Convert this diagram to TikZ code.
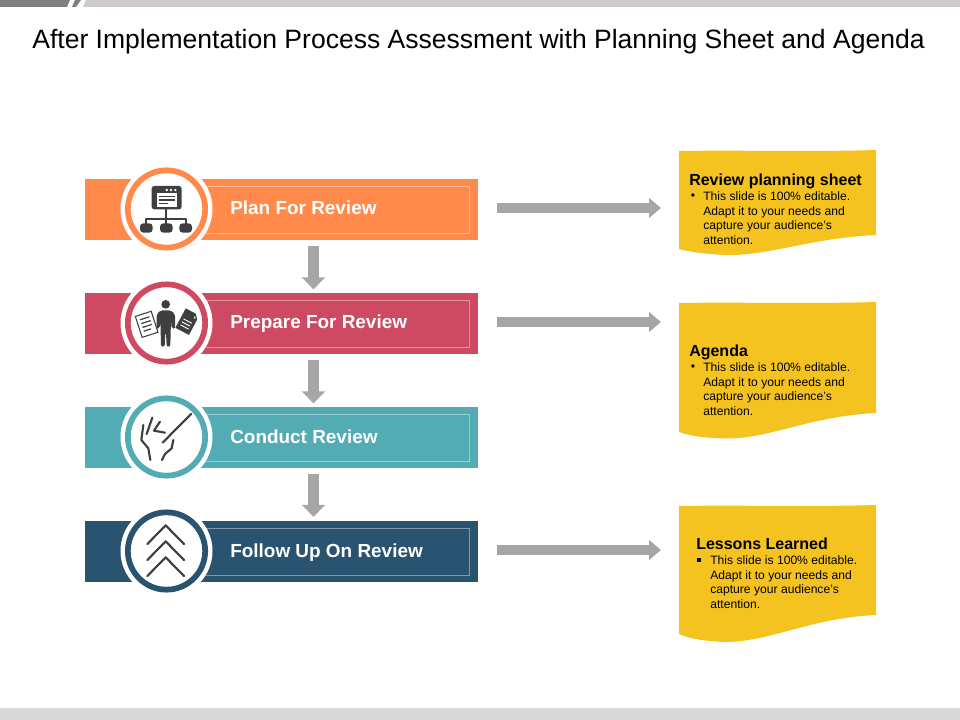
\documentclass[tikz,border=0pt]{standalone}
\usepackage{fontspec}
\setmainfont{Liberation Sans}
\usetikzlibrary{arrows.meta}
\definecolor{cOrange}{HTML}{FF8A4C}
\definecolor{cRed}{HTML}{CE4A63}
\definecolor{cTeal}{HTML}{53ACB4}
\definecolor{cNavy}{HTML}{2A536F}
\definecolor{cYellow}{HTML}{F5C320}
\definecolor{cGrey}{HTML}{A6A6A6}
\definecolor{cIcon}{HTML}{3F3F3F}
\definecolor{cTopDark}{HTML}{7F7F7F}
\definecolor{cTopLight}{HTML}{CFCBCB}
\definecolor{cBottom}{HTML}{D9D9D9}
\tikzset{
  x=0.75pt,y=-0.75pt,
  bar/.style={rectangle,inner sep=0pt,minimum width=294.75pt,minimum height=45.75pt},
  halo/.style={circle,fill=white,inner sep=0pt,minimum size=69pt},
  ring/.style={circle,fill=white,draw=#1,line width=4.3pt,inner sep=0pt,minimum size=58pt},
  inner line/.style={draw=white,draw opacity=.4,line width=.6pt},
  bar label/.style={anchor=base west,text=white,font=\bfseries\fontsize{14.2}{16}\selectfont,inner sep=0pt},
  down conn/.style={draw=cGrey,line width=8.2pt,-{Triangle[length=9pt,width=17pt]},shorten >=2.5pt,shorten <=4.5pt},
  right conn/.style={draw=cGrey,line width=8pt,-{Triangle[length=9pt,width=14.5pt]},shorten >=13.5pt,shorten <=14.3pt},
  card/.style={fill=cYellow},
  card head/.style={anchor=base west,inner sep=0pt,font=\bfseries\fontsize{12}{13}\selectfont},
  card body/.style={anchor=north west,inner sep=0pt,align=left,font=\fontsize{9.1}{10.9}\selectfont},
  card bullet/.style={anchor=center,inner sep=0pt,font=\fontsize{9.1}{10.9}\selectfont},
  icon fill/.style={fill=cIcon},
  icon line/.style={draw=cIcon,line width=1.6pt,line cap=round,line join=round},
  zoomA/.style={shift={(80,160)},x=0.25pt,y=-0.25pt},
  zoomB/.style={shift={(80,380)},x=0.25pt,y=-0.25pt},
}
\begin{document}
\begin{tikzpicture}
\useasboundingbox (0,0) rectangle (960,720);
% page furniture
\fill[cTopDark] (0,0) -- (70,0) -- (67,7) -- (0,7) -- cycle;
\fill[cTopDark] (75,0) -- (81,0) -- (76,7) -- (72,7) -- cycle;
\fill[cTopLight] (86,0) -- (960,0) -- (960,7) -- (83,7) -- cycle;
\fill[cBottom] (0,708) rectangle (960,720);
\node[inner sep=0pt,anchor=base,font=\fontsize{19.9}{23}\selectfont] (title) at (478.5,48.5) {After Implementation Process Assessment with Planning Sheet and Agenda};

% bars
\node[bar,fill=cOrange] (bar1) at (281.5,209.5) {};
\node[bar,fill=cRed] (bar2) at (281.5,323.5) {};
\node[bar,fill=cTeal] (bar3) at (281.5,437.5) {};
\node[bar,fill=cNavy] (bar4) at (281.5,551) {};
\draw[inner line] (130,186) rectangle (469,233);
\draw[inner line] (130,300) rectangle (469,347);
\draw[inner line] (130,414) rectangle (469,461);
\draw[inner line] (130,528) rectangle (469,575);
\node[bar label] (lab1) at (230,215) {Plan For Review};
\node[bar label] (lab2) at (230,329) {Prepare For Review};
\node[bar label] (lab3) at (230,443) {Conduct Review};
\node[bar label] (lab4) at (230,557) {Follow Up On Review};

% circles
\node[halo] (halo1) at (166.5,209) {};
\node[halo] (halo2) at (166.5,323) {};
\node[halo] (halo3) at (166.5,437) {};
\node[halo] (halo4) at (166.5,551) {};
\node[ring=cOrange] (ring1) at (166.5,209) {};
\node[ring=cRed] (ring2) at (166.5,323) {};
\node[ring=cTeal] (ring3) at (166.5,437) {};
\node[ring=cNavy] (ring4) at (166.5,551) {};

% icon 1: hierarchy
\begin{scope}[zoomA]
  \fill[icon fill,rounded corners=2pt] (215,78) rectangle (305,148);
  \fill[white] (230,100) rectangle (290,140);
  \fill[white] (260,90) circle (4) (273,90) circle (4) (286,90) circle (4);
  \draw[icon line,line width=1pt,line cap=butt] (238,110) -- (284,110) (238,120) -- (284,120) (238,130) -- (264,130);
  \draw[icon line,line cap=butt,line width=1.5pt] (257,148) -- (257,192) (199,195) -- (199,176) -- (317,176) -- (317,195);
  \fill[icon fill,rounded corners=2.5pt] (180,190) rectangle (218,218);
  \fill[icon fill,rounded corners=2.5pt] (240,190) rectangle (278,218);
  \fill[icon fill,rounded corners=2.5pt] (298,190) rectangle (336,218);
\end{scope}

% icon 2: person with papers
\begin{scope}[zoomA]
  \fill[icon fill] (257,433) circle (13);
  \fill[icon fill,rounded corners=1.5pt] (242,451) -- (272,451) -- (285,462) -- (285,506) -- (275,506) -- (273,480) -- (272,515) -- (271,560) -- (260,560) -- (258,518) -- (256,518) -- (254,560) -- (243,560) -- (242,515) -- (241,480) -- (239,506) -- (230,506) -- (230,462) -- cycle;
  \begin{scope}[shift={(200,493)},rotate=18]
    \fill[white,draw=cIcon,line width=.8pt] (-25,-33) rectangle (25,33);
    \draw[icon line,line width=.9pt,line cap=butt] (-15,-19) -- (15,-19) (-15,-7) -- (15,-7) (-15,5) -- (15,5) (-15,17) -- (8,17);
  \end{scope}
  \begin{scope}[shift={(322,485)},rotate=-28]
    \fill[icon fill] (-23,-33) -- (11,-33) -- (23,-20) -- (23,33) -- (-23,33) -- cycle;
    \fill[white] (12,-26) -- (18,-19) -- (12,-19) -- cycle;
    \draw[draw=white,line width=.7pt] (-14,-2) -- (14,-2) (-14,8) -- (14,8) (-14,18) -- (14,18);
  \end{scope}
\end{scope}

% icon 3: hand with pointer
\begin{scope}[zoomB]
  \draw[icon line] (248,188) -- (333,102);
  \draw[icon line] (190,135) -- (184,180) -- (205,205) -- (211,240);
  \draw[icon line] (217,113) -- (200,162);
  \draw[icon line] (240,125) -- (222,152) -- (255,158);
  \draw[icon line] (280,180) -- (275,205) -- (255,222) -- (246,240);
\end{scope}

% icon 4: chevrons
\begin{scope}[zoomB]
  \draw[icon line] (202,492) -- (257,436) -- (312,492);
  \draw[icon line] (202,540) -- (257,484) -- (312,540);
  \draw[icon line] (202,588) -- (257,532) -- (312,588);
\end{scope}

% cards
\fill[card] (679,151) .. controls (740,150) and (810,152) .. (876,150) -- (876,235)
  .. controls (810,238) and (770,256) .. (725,255) .. controls (705,254) and (690,252) .. (679,249) -- cycle;
\fill[card] (679,303) .. controls (740,302) and (810,304) .. (876,302) -- (876,413)
  .. controls (810,416) and (770,439) .. (725,438.5) .. controls (705,438) and (690,436) .. (679,432) -- cycle;
\fill[card] (679,506) .. controls (740,505) and (810,507) .. (876,505) -- (876,615)
  .. controls (810,618) and (770,642) .. (725,642) .. controls (705,641) and (690,639) .. (679,634) -- cycle;
\coordinate (card1) at (679,208);
\coordinate (card2) at (679,322);
\coordinate (card3) at (679,550);

\node[card head] (head1) at (689,185.5) {Review planning sheet};
\node[card bullet] (bul1) at (693,197) {•};
\node[card body] (body1) at (703,191.5) {This slide is 100\% editable.\\Adapt it to your needs and\\capture your audience’s\\attention.};
\node[card head] (head2) at (689,356.5) {Agenda};
\node[card bullet] (bul2) at (693,368) {•};
\node[card body] (body2) at (703,362.5) {This slide is 100\% editable.\\Adapt it to your needs and\\capture your audience’s\\attention.};
\node[card head] (head3) at (696,549.5) {Lessons Learned};
\fill (697,558) rectangle (701,562);
\node[card body] (body3) at (710,555.5) {This slide is 100\% editable.\\Adapt it to your needs and\\capture your audience’s\\attention.};

% connectors
\coordinate (axis) at (313.5,0);
\draw[down conn] (axis |- bar1.south) -- (axis |- bar2.north);
\draw[down conn] (axis |- bar2.south) -- (axis |- bar3.north);
\draw[down conn] (axis |- bar3.south) -- (axis |- bar4.north);
\draw[right conn] (bar1.east |- card1) -- (card1);
\draw[right conn] (bar2.east |- card2) -- (card2);
\draw[right conn] (bar4.east |- card3) -- (card3);
\end{tikzpicture}
\end{document}
